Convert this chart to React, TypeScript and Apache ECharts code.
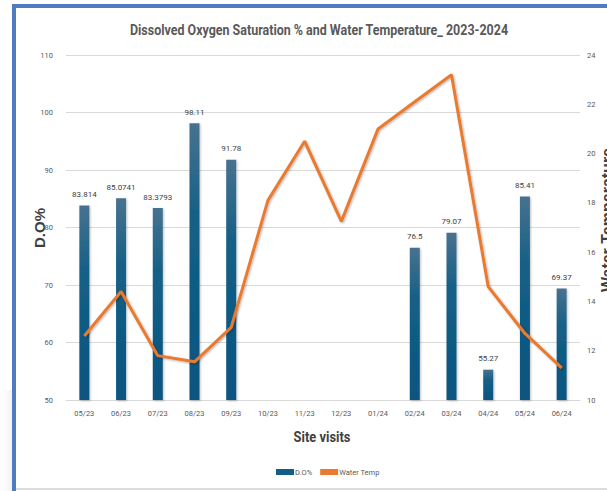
import React, { useEffect, useRef } from "react";
import * as echarts from "echarts";

const categories = ["05/23", "06/23", "07/23", "08/23", "09/23", "10/23", "11/23", "12/23", "01/24", "02/24", "03/24", "04/24", "05/24", "06/24"];
const doValues: (number | null)[] = [83.814, 85.0741, 83.3793, 98.11, 91.78, null, null, null, null, 76.5, 79.07, 55.27, 85.41, 69.37];
const tempValues = [12.6, 14.4, 11.8, 11.55, 12.95, 18.1, 20.5, 17.25, 21.0, 22.1, 23.2, 14.6, 12.7, 11.3];
const leftTicks = { min: 50, max: 110, interval: 10 };
const rightTicks = { min: 10, max: 24, interval: 2 };

const NARROW = "Roboto, 'Liberation Sans', sans-serif";
const SANS = "'Liberation Sans', Arial, sans-serif";

export default function App() {
  const ref = useRef<HTMLDivElement>(null);
  useEffect(() => {
    if (!ref.current) return;
    const chart = echarts.init(ref.current, null, { renderer: "svg" });
    chart.setOption({
      animation: false,
      backgroundColor: "#ffffff",
      legend: {
        bottom: 10,
        left: 271,
        itemWidth: 18,
        itemHeight: 6,
        itemGap: 8,
        textStyle: { fontFamily: NARROW, fontSize: 7.5, color: "#595959", padding: [0, 0, 0, -4] },
        data: [
          { name: "D.O%", icon: "rect", itemStyle: { color: "#135e85" } },
          { name: "Water Temp", icon: "rect", itemStyle: { color: "#e97a2f" } },
        ],
      },
      grid: { left: 66, right: 27, top: 55, bottom: 91 },
      xAxis: {
        type: "category",
        data: categories,
        axisLine: { lineStyle: { color: "#d9d9d9", width: 1 } },
        axisTick: { show: false },
        axisLabel: { fontFamily: NARROW, fontSize: 7.5, color: "#595959", margin: 9 },
      },
      yAxis: [
        {
          type: "value",
          min: leftTicks.min,
          max: leftTicks.max,
          interval: leftTicks.interval,
          axisLine: { show: false },
          axisTick: { show: false },
          splitLine: { lineStyle: { color: "#d9d9d9", width: 1 } },
          axisLabel: { fontFamily: NARROW, fontSize: 7.5, color: "#595959", margin: 13 },
        },
        {
          type: "value",
          min: rightTicks.min,
          max: rightTicks.max,
          interval: rightTicks.interval,
          axisLine: { show: false },
          axisTick: { show: false },
          splitLine: { show: false },
          axisLabel: { fontFamily: NARROW, fontSize: 7.5, color: "#595959", margin: 7 },
        },
      ],
      series: [
        {
          name: "D.O%",
          type: "bar",
          yAxisIndex: 0,
          data: doValues,
          barWidth: 10,
          itemStyle: {
            color: new echarts.graphic.LinearGradient(0, 0, 0, 1, [
              { offset: 0, color: "#47728f" },
              { offset: 0.35, color: "#145f86" },
              { offset: 1, color: "#0a5580" },
            ]),
            shadowColor: "rgba(0,0,0,0.25)",
            shadowBlur: 2,
            shadowOffsetX: 1,
            shadowOffsetY: 1,
          },
          label: {
            show: true,
            position: "top",
            distance: 7,
            fontFamily: NARROW,
            fontSize: 8,
            color: "#404040",
          },
        },
        {
          name: "Water Temp",
          type: "line",
          yAxisIndex: 1,
          data: tempValues,
          symbol: "none",
          lineStyle: {
            color: "#e97a2f",
            width: 3,
            shadowColor: "rgba(0,0,0,0.3)",
            shadowBlur: 2,
            shadowOffsetX: 1,
            shadowOffsetY: 1,
          },
          itemStyle: { color: "#e97a2f" },
        },
      ],
      graphic: [
        {
          type: "rect",
          shape: { x: 0, y: 390, width: 12, height: 101 },
          style: {
            fill: new echarts.graphic.LinearGradient(0, 0, 1, 0, [
              { offset: 0, color: "rgba(255,255,255,0)" },
              { offset: 1, color: "rgba(210,210,210,0.35)" },
            ]),
          },
          silent: true,
        },
        { type: "rect", shape: { x: 12, y: 4, width: 4, height: 487 }, style: { fill: "#4d7dc0" }, silent: true },
        { type: "rect", shape: { x: 12, y: 4, width: 595, height: 4 }, style: { fill: "#4d7dc0" }, silent: true },
        { type: "rect", shape: { x: 16, y: 488, width: 591, height: 2 }, style: { fill: "#dcdcdc" }, silent: true },
        {
          type: "text",
          x: 319,
          y: 30,
          scaleX: 0.89,
          style: {
            text: "Dissolved Oxygen Saturation % and Water Temperature_ 2023-2024",
            fontFamily: NARROW,
            fontSize: 14,
            fontWeight: "bold",
            fill: "#595959",
            align: "center",
            verticalAlign: "middle",
          },
          silent: true,
        },
        {
          type: "text",
          x: 39,
          y: 228,
          rotation: Math.PI / 2,
          style: {
            text: "D.O%",
            fontFamily: SANS,
            fontSize: 15,
            fontWeight: "bold",
            fill: "#404040",
            align: "center",
            verticalAlign: "middle",
          },
          silent: true,
        },
        {
          type: "text",
          x: 607,
          y: 220,
          rotation: Math.PI / 2,
          style: {
            text: "Water Temperature",
            fontFamily: SANS,
            fontSize: 16,
            fontWeight: "bold",
            fill: "#404040",
            align: "center",
            verticalAlign: "middle",
          },
          silent: true,
        },
        {
          type: "text",
          x: 322,
          y: 437,
          scaleX: 0.86,
          style: {
            text: "Site visits",
            fontFamily: NARROW,
            fontSize: 15,
            fontWeight: "bold",
            fill: "#404040",
            align: "center",
            verticalAlign: "middle",
          },
          silent: true,
        },
      ],
    });
    return () => chart.dispose();
  }, []);
  return <div ref={ref} style={{ position: "absolute", left: 0, top: 0, width: 607, height: 491 }} />;
}
